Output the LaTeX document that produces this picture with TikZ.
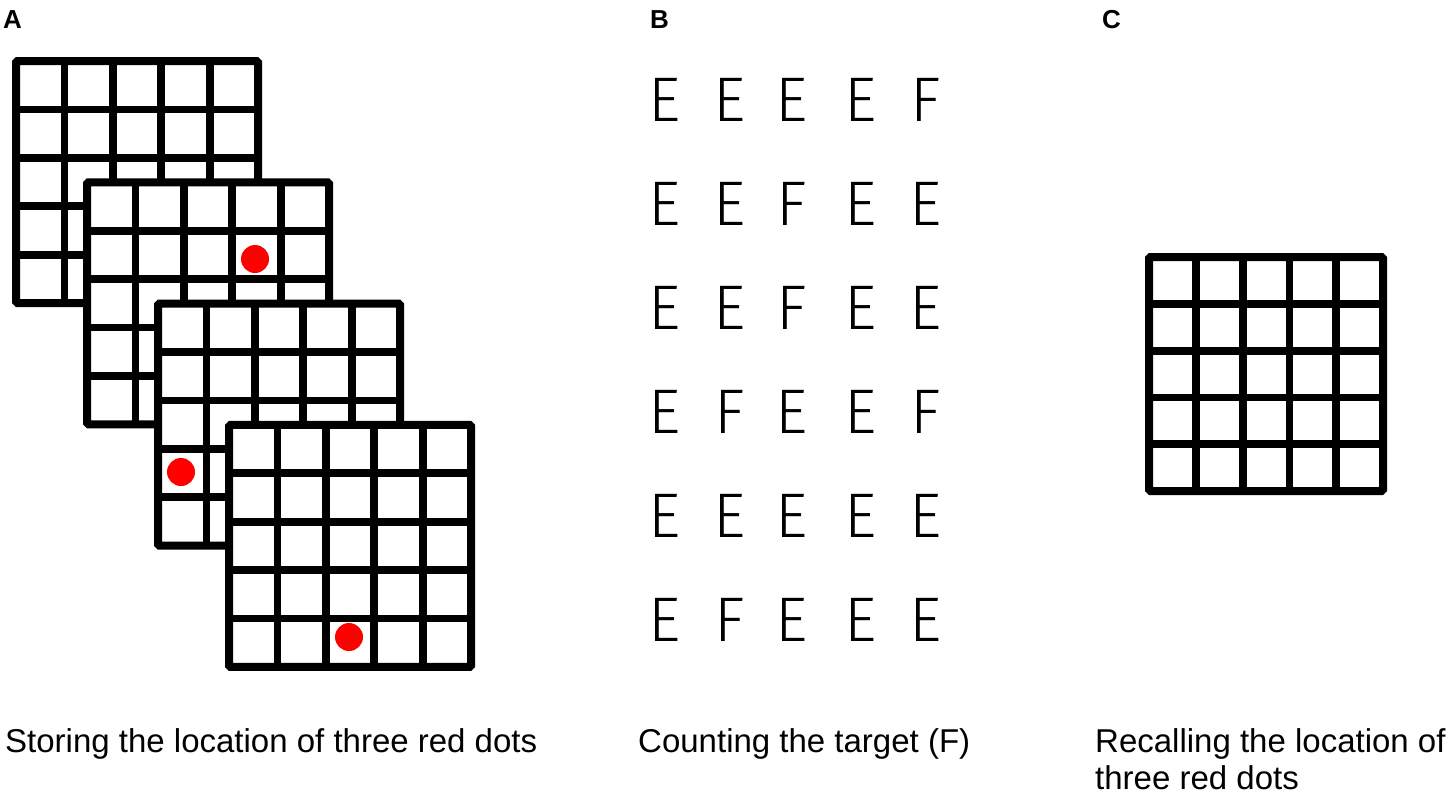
\documentclass[tikz,border=0pt]{standalone}
\usepackage{fontspec}
\setmainfont{Liberation Sans}
\newfontfamily\lightfont{Fira Sans Light}
\begin{document}
\begin{tikzpicture}[x=1pt,y=-1pt,
  gline/.style={line width=7.8pt,black},
  gframe/.style={line width=8pt,black,rounded corners=1.5pt},
  reddot/.style={circle,fill=red,inner sep=0pt,minimum size=28pt},
  letter/.style={font=\lightfont\fontsize{63}{63}\selectfont,inner sep=0pt,anchor=base},
  paneltag/.style={font=\bfseries\fontsize{26}{26}\selectfont,inner sep=0pt,anchor=base west},
  caption/.style={font=\fontsize{33}{37}\selectfont,inner sep=0pt,anchor=base west}]
\useasboundingbox (0,0) rectangle (1450,796);
% panel tags
\node[paneltag] (tA) at (3,28) {A};
\node[paneltag] (tB) at (650,28) {B};
\node[paneltag] (tC) at (1102,28) {C};
% stacked grids of panel A
\foreach \i in {0,1,2,3} {
  \pgfmathsetmacro\gx{16+71*\i}
  \pgfmathsetmacro\gy{61+121.3*\i}
  \fill[white] (\gx,\gy) rectangle ++(242,242);
  \foreach \k in {1,2,3,4} {
    \draw[gline] ({\gx+48.4*\k},\gy) -- ++(0,242);
    \draw[gline] (\gx,{\gy+48.4*\k}) -- ++(242,0);
  }
  \draw[gframe] (\gx,\gy) rectangle ++(242,242);
}
\node[reddot] (d1) at (255,259) {};
\node[reddot] (d2) at (181,472) {};
\node[reddot] (d3) at (349,637) {};
% letters of panel B
\foreach \row [count=\r from 0] in {{E,E,E,E,F},{E,E,F,E,E},{E,E,F,E,E},{E,F,E,E,F},{E,E,E,E,E},{E,F,E,E,E}} {
  \foreach \ch [count=\c from 0] in \row {
    \pgfmathsetmacro\lx{{665,730,792,861,926}[\c]}
    \node[letter] (L\r\c) at (\lx,{121.5+104*\r}) {\ch};
  }
}
% grid of panel C
\foreach \k in {1,2,3,4} {
  \draw[gline] ({1149+46.8*\k},257) -- ++(0,234);
  \draw[gline] (1149,{257+46.8*\k}) -- ++(234,0);
}
\draw[gframe] (1149,257) rectangle ++(234,234);
% captions
\node[caption] (cA) at (5,752) {Storing the location of three red dots};
\node[caption] (cB) at (638,752) {Counting the target (F)};
\node[caption] (cC1) at (1095,752) {Recalling the location of};
\node[caption] (cC2) at (1095,789) {three red dots};
\end{tikzpicture}
\end{document}
